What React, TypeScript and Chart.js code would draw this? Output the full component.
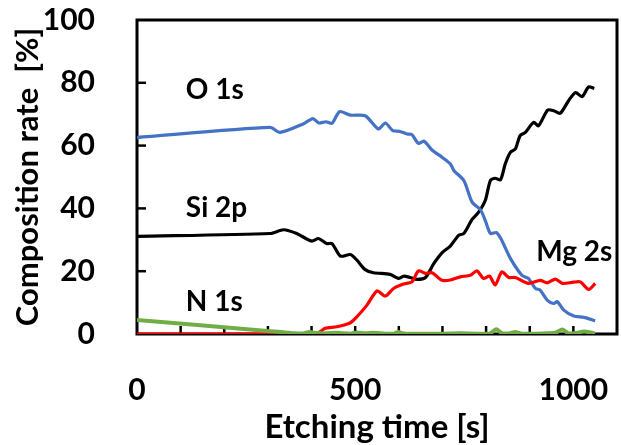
import React, { useEffect, useRef } from "react";
import { Chart, registerables } from "chart.js";

Chart.register(...registerables);

// ---- Data (time [s], composition [%]) ----
const oTime = [0, 305, 328, 381, 403, 417, 433, 447, 464, 489, 523, 553, 569, 586, 603, 619, 630, 645, 658, 676, 699, 718, 726, 749, 768, 787, 798, 810, 824, 836, 856, 882, 897, 913, 924, 940, 955, 963, 978, 1001, 1024, 1050];
const oValue = [62.6, 65.8, 64.2, 66.9, 68.6, 67.2, 67.6, 67.1, 70.8, 69.7, 69.5, 65.3, 67.2, 64.8, 64.5, 63.7, 63.5, 60.7, 61.4, 58.6, 56.3, 54.2, 52.1, 48.9, 42.0, 39.6, 36.2, 32.0, 32.3, 29.8, 24.0, 18.7, 17.7, 14.5, 14.0, 10.8, 9.7, 10.3, 7.6, 5.7, 5.3, 4.2];

const siTime = [0, 305, 336, 366, 400, 416, 435, 447, 466, 489, 504, 523, 542, 580, 599, 611, 626, 642, 661, 680, 700, 718, 737, 749, 768, 783, 798, 810, 821, 833, 844, 856, 867, 878, 890, 909, 920, 941, 955, 970, 989, 1005, 1020, 1035, 1048];
const siValue = [31.1, 32.0, 33.2, 32.0, 29.6, 30.4, 28.8, 28.8, 24.8, 25.3, 23.5, 20.5, 19.5, 19.0, 17.7, 18.4, 18.0, 17.4, 18.0, 22.4, 26.0, 28.0, 31.4, 32.0, 36.5, 38.8, 42.5, 48.9, 49.6, 49.1, 54.2, 57.9, 58.9, 63.2, 64.2, 67.4, 66.3, 71.3, 71.1, 70.3, 74.3, 76.9, 75.6, 78.7, 78.2];

const mgTime = [0, 305, 412, 431, 458, 489, 504, 527, 550, 569, 588, 611, 630, 645, 661, 676, 699, 718, 741, 764, 779, 794, 808, 821, 836, 852, 867, 897, 924, 940, 959, 975, 1000, 1016, 1035, 1050];
const mgValue = [0, 0, 0.1, 1.8, 2.3, 3.6, 5.5, 9.2, 13.7, 12.1, 14.5, 15.9, 16.6, 20.1, 19.3, 19.5, 17.1, 17.2, 18.2, 18.7, 20.1, 17.7, 18.4, 15.6, 19.8, 18.0, 18.0, 16.1, 17.1, 16.3, 17.5, 16.1, 16.5, 16.6, 14.2, 16.1];

const nTime = [0, 305, 340, 360, 381, 395, 412, 431, 458, 489, 504, 523, 542, 569, 588, 599, 611, 630, 661, 699, 741, 779, 808, 823, 836, 852, 867, 882, 913, 940, 959, 975, 989, 1005, 1024, 1040, 1050];
const nValue = [4.5, 0.9, 0.5, 0.2, 0.2, 0.6, 0.3, 0.2, 0.4, 0.1, 0.5, 0.2, 0.4, 0.1, 0.1, 0.6, 0.2, 0.1, 0.1, 0.1, 0.2, 0.1, 0.1, 1.5, 0.3, 0.2, 0.6, 0.1, 0.1, 0.2, 0.4, 1.4, 0.2, 0.3, 0.8, 0.5, 0.1];

const xTickLabels = [0, 500, 1000];
const yTickLabels = [0, 20, 40, 60, 80, 100];

const seriesLabels = ["O 1s", "Si 2p", "Mg 2s", "N 1s"];
const labelAnchors = [
  { text: "O 1s", x: 112, y: 77.8 },
  { text: "Si 2p", x: 112, y: 40 },
  { text: "N 1s", x: 112, y: 10.2 },
  { text: "Mg 2s", x: 915, y: 26 },
];

const FONT = "Lato, 'Open Sans', sans-serif";

const toPoints = (t: number[], v: number[]) => t.map((x, i) => ({ x, y: v[i] }));

const framePlugin = {
  id: "frameTicks",
  beforeDatasetsDraw(chart: any) {
    const { ctx, chartArea, scales } = chart;
    const { left, right, top, bottom } = chartArea;
    ctx.save();
    ctx.strokeStyle = "#000";
    ctx.lineWidth = 3;
    ctx.strokeRect(left, top, right - left, bottom - top);
    ctx.lineWidth = 2.5;
    for (let v = 100; v <= 1000; v += 100) {
      const px = scales.x.getPixelForValue(v);
      ctx.beginPath();
      ctx.moveTo(px, bottom);
      ctx.lineTo(px, bottom - 8);
      ctx.stroke();
    }
    for (let v = 20; v <= 80; v += 20) {
      const py = scales.y.getPixelForValue(v);
      ctx.beginPath();
      ctx.moveTo(left, py);
      ctx.lineTo(left + 9, py);
      ctx.stroke();
    }
    ctx.restore();
  },
  afterDatasetsDraw(chart: any) {
    const { ctx, scales } = chart;
    ctx.save();
    ctx.fillStyle = "#000";
    ctx.font = `bold 28px ${FONT}`;
    ctx.textAlign = "left";
    ctx.textBaseline = "middle";
    for (const a of labelAnchors) {
      ctx.fillText(a.text, scales.x.getPixelForValue(a.x), scales.y.getPixelForValue(a.y));
    }
    ctx.restore();
  },
};

export default function App() {
  const ref = useRef<HTMLCanvasElement>(null);
  useEffect(() => {
    document.body.style.margin = "0";
    const canvas = ref.current!;
    const chart = new Chart(canvas, {
      type: "line",
      data: {
        datasets: [
          { label: seriesLabels[3], data: toPoints(nTime, nValue), borderColor: "#70AD47", borderWidth: 4, order: 0 },
          { label: seriesLabels[2], data: toPoints(mgTime, mgValue), borderColor: "#FF0000", borderWidth: 3.2, order: 1 },
          { label: seriesLabels[0], data: toPoints(oTime, oValue), borderColor: "#4472C4", borderWidth: 3.2, order: 2 },
          { label: seriesLabels[1], data: toPoints(siTime, siValue), borderColor: "#000000", borderWidth: 3.2, order: 3 },
        ].map((d) => ({ ...d, pointRadius: 0, tension: 0.25, fill: false })),
      },
      options: {
        responsive: false,
        animation: false,
        layout: { padding: { top: 20, right: 4, left: 0, bottom: 0 } },
        plugins: { legend: { display: false }, tooltip: { enabled: false } },
        scales: {
          x: {
            type: "linear",
            min: 0,
            max: 1100,
            grid: { display: false },
            border: { display: false },
            afterFit: (s: any) => { s.height = 111; s.paddingLeft = 0; s.paddingRight = 0; },
            afterBuildTicks: (s: any) => { s.ticks = xTickLabels.map((v) => ({ value: v })); },
            ticks: { color: "#000", padding: 30, maxRotation: 0, callback: (v: any) => String(v), font: { family: FONT, size: 30, weight: "bold" } },
            title: { display: true, text: "Etching time [s]", color: "#000", padding: { top: 0, bottom: 1 }, font: { family: FONT, size: 33, weight: "bold", lineHeight: 1 } },
          },
          y: {
            min: 0,
            max: 100,
            grid: { display: false },
            border: { display: false },
            afterFit: (s: any) => { s.width = 137; s.paddingTop = 0; s.paddingBottom = 0; },
            afterBuildTicks: (s: any) => { s.ticks = yTickLabels.map((v) => ({ value: v })); },
            ticks: { color: "#000", padding: 34, callback: (v: any) => String(v), font: { family: FONT, size: 30, weight: "bold" } },
            title: { display: true, text: "Composition rate  [%]", color: "#000", padding: { top: 12, bottom: 0 }, font: { family: FONT, size: 31, weight: "bold", lineHeight: 1 } },
          },
        },
      },
      plugins: [framePlugin],
    } as any);
    return () => chart.destroy();
  }, []);
  return (
    <div style={{ width: 621, height: 445 }}>
      <canvas ref={ref} width={621} height={445} />
    </div>
  );
}
